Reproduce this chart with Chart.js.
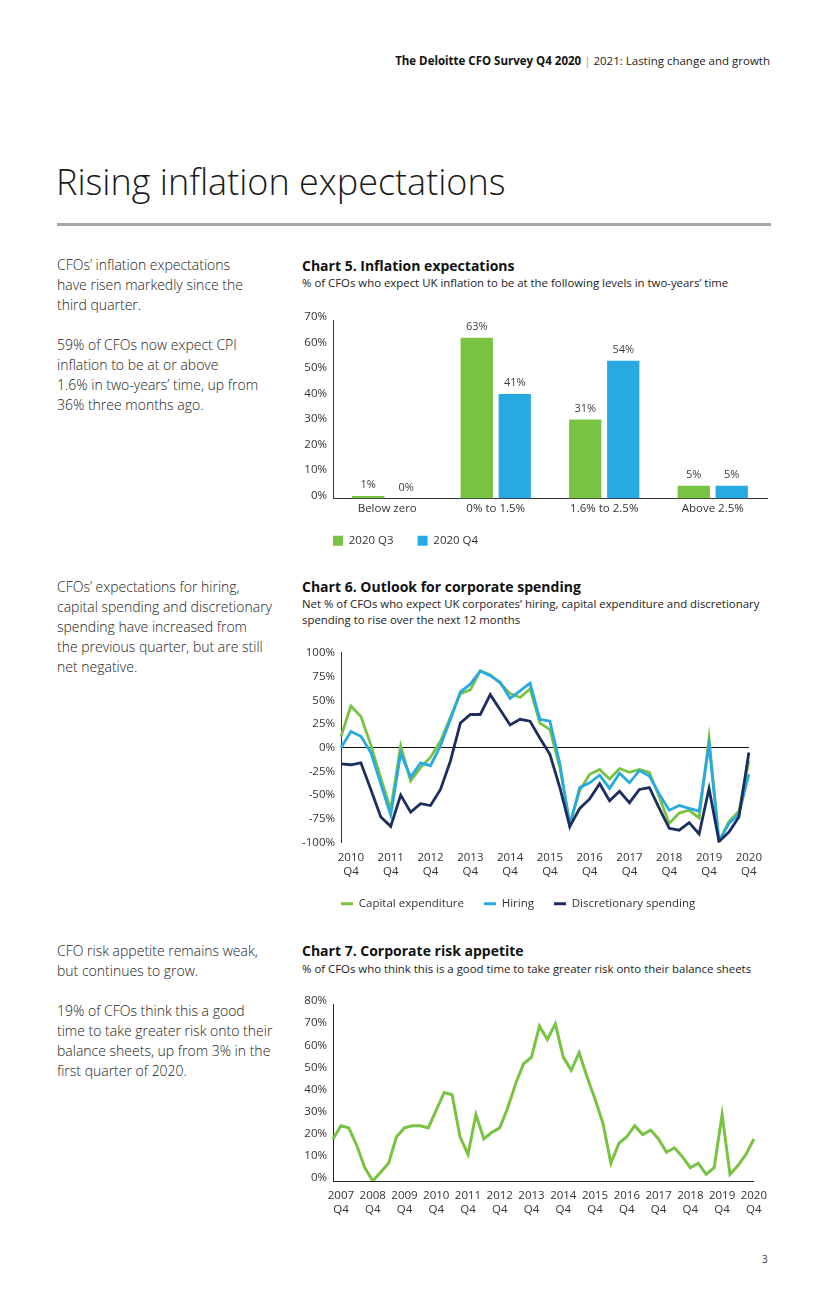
<!DOCTYPE html>
<html><head><meta charset="utf-8">
<script src="https://cdn.jsdelivr.net/npm/chart.js@4.4.1/dist/chart.umd.min.js"></script>
<style>
body{margin:0;width:827px;height:1290px;background:#fff;font-family:'Open Sans',sans-serif;color:#222;position:relative;overflow:hidden}
.abs{position:absolute;white-space:nowrap}
#hdr{right:57px;top:53px;font-size:11.5px;line-height:16px;color:#222}
#hdr b{font-weight:700;color:#111}
#title{left:56px;top:158px;font-size:36px;line-height:48px;font-weight:300;color:#1a1a1a}
#rule{left:57px;top:223px;width:714px;height:3px;background:#a6a6a6}
.side{left:57px;font-size:14px;font-weight:300;line-height:20px;color:#222}
.ctitle{left:302px;font-size:14px;line-height:20px;font-weight:700;color:#111}
.csub{left:302px;font-size:11.4px;line-height:16px;color:#222}
canvas{position:absolute}
#pg{left:762px;top:1251px;font-size:10px;line-height:16px;color:#333}
</style></head><body>
<div id="hdr" class="abs"><b>The Deloitte CFO Survey Q4 2020</b> <span style="color:#999">|</span> 2021: Lasting change and growth</div>
<div id="title" class="abs">Rising inflation expectations</div>
<div id="rule" class="abs"></div>

<div class="abs side" style="top:255px">CFOs’ inflation expectations<br>have risen markedly since the<br>third quarter.<br><br>59% of CFOs now expect CPI<br>inflation to be at or above<br>1.6% in two-years’ time, up from<br>36% three months ago.</div>
<div class="abs side" style="top:577px">CFOs’ expectations for hiring,<br>capital spending and discretionary<br>spending have increased from<br>the previous quarter, but are still<br>net negative.</div>
<div class="abs side" style="top:941px">CFO risk appetite remains weak,<br>but continues to grow.<br><br>19% of CFOs think this a good<br>time to take greater risk onto their<br>balance sheets, up from 3% in the<br>first quarter of 2020.</div>

<div class="abs ctitle" style="top:256px">Chart 5. Inflation expectations</div>
<div class="abs csub" style="top:275px">% of CFOs who expect UK inflation to be at the following levels in two-years’ time</div>
<div class="abs ctitle" style="top:577px">Chart 6. Outlook for corporate spending</div>
<div class="abs csub" style="top:596px">Net % of CFOs who expect UK corporates’ hiring, capital expenditure and discretionary<br>spending to rise over the next 12 months</div>
<div class="abs ctitle" style="top:941px">Chart 7. Corporate risk appetite</div>
<div class="abs csub" style="top:961px">% of CFOs who think this is a good time to take greater risk onto their balance sheets</div>
<div id="pg" class="abs">3</div>

<canvas id="c5" style="left:290px;top:300px;width:480px;height:264px" width="480" height="264"></canvas>
<canvas id="c6" style="left:295px;top:640px;width:475px;height:284px" width="475" height="284"></canvas>
<canvas id="c7" style="left:290px;top:985px;width:485px;height:236px" width="485" height="236"></canvas>

<script>
// ---------- Chart 5 data ----------
const categories5 = ['Below zero','0% to 1.5%','1.6% to 2.5%','Above 2.5%'];
const q3_2020 = [1, 63, 31, 5];
const q4_2020 = [0, 41, 54, 5];
const series5Names = ['2020 Q3','2020 Q4'];

// ---------- Chart 6 data ----------
const quarters6 = ['2010 Q3','2010 Q4',
 '2011 Q1','2011 Q2','2011 Q3','2011 Q4','2012 Q1','2012 Q2','2012 Q3','2012 Q4',
 '2013 Q1','2013 Q2','2013 Q3','2013 Q4','2014 Q1','2014 Q2','2014 Q3','2014 Q4',
 '2015 Q1','2015 Q2','2015 Q3','2015 Q4','2016 Q1','2016 Q2','2016 Q3','2016 Q4',
 '2017 Q1','2017 Q2','2017 Q3','2017 Q4','2018 Q1','2018 Q2','2018 Q3','2018 Q4',
 '2019 Q1','2019 Q2','2019 Q3','2019 Q4','2020 Q1','2020 Q2','2020 Q3','2020 Q4'];
const capex = [12,44,33,3,-32,-65,2,-35,-21,-10,7,32,57,61,81,77,68,57,53,62,26,19,-21,-80,-45,-28,-23,-33,-22,-26,-23,-26,-52,-80,-69,-66,-74,10,-99,-78,-67,-14];
const hiring = [0,17,12,-5,-38,-71,-6,-31,-16,-19,2,30,59,67,81,76,69,52,60,68,30,28,-17,-82,-42,-37,-29,-43,-27,-37,-24,-30,-49,-66,-61,-64,-67,3,-98,-80,-70,-28];
const discretionary = [-17,-18,-16,-44,-73,-83,-50,-68,-59,-61,-44,-14,26,35,35,56,40,24,30,28,10,-7,-42,-83,-64,-54,-38,-56,-46,-58,-44,-42,-64,-85,-87,-79,-91,-43,-99,-89,-73,-5];
const series6Names = ['Capital expenditure','Hiring','Discretionary spending'];

// ---------- Chart 7 data ----------
const quarters7 = ['2007 Q3','2007 Q4',
 '2008 Q1','2008 Q2','2008 Q3','2008 Q4','2009 Q1','2009 Q2','2009 Q3','2009 Q4',
 '2010 Q1','2010 Q2','2010 Q3','2010 Q4','2011 Q1','2011 Q2','2011 Q3','2011 Q4',
 '2012 Q1','2012 Q2','2012 Q3','2012 Q4','2013 Q1','2013 Q2','2013 Q3','2013 Q4',
 '2014 Q1','2014 Q2','2014 Q3','2014 Q4','2015 Q1','2015 Q2','2015 Q3','2015 Q4',
 '2016 Q1','2016 Q2','2016 Q3','2016 Q4','2017 Q1','2017 Q2','2017 Q3','2017 Q4',
 '2018 Q1','2018 Q2','2018 Q3','2018 Q4','2019 Q1','2019 Q2','2019 Q3','2019 Q4',
 '2020 Q1','2020 Q2','2020 Q3','2020 Q4'];
const riskAppetite = [19,25,24,16,6,0,4,8,20,24,25,25,24,32,40,39,20,12,30,19,22,24,33,44,53,56,70,64,71,56,50,58,47,37,26,8,17,20,25,21,23,19,13,15,11,6,8,3,6,30,3,7,12,19];

const GREEN = '#78c342', BLUE = '#27aae2', NAVY = '#1c2e5f';
Chart.defaults.font.family = "'Open Sans', sans-serif";
Chart.defaults.font.size = 11.5;
Chart.defaults.color = '#333';

const q4Label = (labels) => function(value, index){
  const l = labels[index];
  return l.endsWith('Q4') ? l.split(' ') : '';
};

const barLabels = {
  id: 'barLabels',
  afterDatasetsDraw(chart){
    const ctx = chart.ctx;
    ctx.save();
    ctx.font = "11px 'Open Sans', sans-serif";
    ctx.fillStyle = '#404040';
    ctx.textAlign = 'center';
    ctx.textBaseline = 'middle';
    chart.data.datasets.forEach((ds, di) => {
      chart.getDatasetMeta(di).data.forEach((el, i) => {
        ctx.fillText(ds.data[i] + '%', el.x, el.y - 11);
      });
    });
    ctx.restore();
  }
};

// place legend just below the x axis, starting at the plot's left edge
const legendPlace = (dy) => ({
  id: 'legendPlace',
  afterLayout(chart){
    const lg = chart.legend;
    if (!lg) return;
    lg.left = chart.chartArea.left - lg.options.labels.padding;
    lg.top = chart.chartArea.bottom + dy;
    lg.bottom = lg.top + lg.height;
  }
});

// Chart 5
new Chart(document.getElementById('c5'), {
  type: 'bar',
  data: {
    labels: categories5,
    datasets: [
      {label: series5Names[0], data: q3_2020, backgroundColor: GREEN, categoryPercentage: 0.7, barPercentage: 0.85},
      {label: series5Names[1], data: q4_2020, backgroundColor: BLUE, categoryPercentage: 0.7, barPercentage: 0.85}
    ]
  },
  options: {
    responsive: false, animation: false, devicePixelRatio: 1,
    layout: {padding: {left: 0, top: 20, right: 3, bottom: 0}},
    scales: {
      x: {grid: {display: false, drawTicks: false}, border: {display: true, color: '#333'},
          ticks: {padding: 3}, afterFit: s => { s.height = 20; }},
      y: {min: 0, max: 70, grid: {display: false, drawTicks: false}, border: {display: true, color: '#333'},
          ticks: {stepSize: 10, padding: 6, labelOffset: -3, callback: v => v + '%'}, afterFit: s => { s.width = 43; }}
    },
    plugins: {
      legend: {position: 'bottom', align: 'start', labels: {boxWidth: 10, boxHeight: 10, padding: 24}},
      tooltip: {enabled: false}
    }
  },
  plugins: [barLabels, legendPlace(12.5)]
});

// Chart 6
const lineLegendLabels = ch => Chart.defaults.plugins.legend.labels.generateLabels(ch)
  .map(l => Object.assign(l, {lineWidth: 0, fillStyle: l.strokeStyle}));

new Chart(document.getElementById('c6'), {
  type: 'line',
  data: {
    labels: quarters6,
    datasets: [
      {label: series6Names[0], data: capex, borderColor: GREEN, backgroundColor: GREEN, order: 3},
      {label: series6Names[1], data: hiring, borderColor: BLUE, backgroundColor: BLUE, order: 2},
      {label: series6Names[2], data: discretionary, borderColor: NAVY, backgroundColor: NAVY, order: 1}
    ]
  },
  options: {
    responsive: false, animation: false, devicePixelRatio: 1,
    elements: {line: {borderWidth: 2.8, tension: 0}, point: {radius: 0}},
    layout: {padding: {left: 0, top: 12, right: 18, bottom: 0}},
    scales: {
      x: {grid: {display: false, drawTicks: false}, border: {display: false},
          ticks: {autoSkip: false, maxRotation: 0, padding: 8, font: {lineHeight: 1.22}, callback: q4Label(quarters6)},
          afterFit: s => { s.height = 40; }},
      y: {min: -100, max: 100, border: {display: true, color: '#333'},
          grid: {drawTicks: false, color: c => c.tick && c.tick.value === 0 ? '#111' : 'rgba(0,0,0,0)', lineWidth: 1},
          ticks: {stepSize: 25, padding: 6, callback: v => v + '%'}, afterFit: s => { s.width = 46; }}
    },
    plugins: {
      legend: {position: 'bottom', align: 'start',
        labels: {boxWidth: 12, boxHeight: 3, padding: 20, generateLabels: lineLegendLabels,
                 sort: (a, b) => a.datasetIndex - b.datasetIndex}},
      tooltip: {enabled: false}
    }
  },
  plugins: [legendPlace(35.5)]
});

// Chart 7
new Chart(document.getElementById('c7'), {
  type: 'line',
  data: {
    labels: quarters7,
    datasets: [{label: 'Risk appetite', data: riskAppetite, borderColor: GREEN, backgroundColor: GREEN}]
  },
  options: {
    responsive: false, animation: false, devicePixelRatio: 1,
    elements: {line: {borderWidth: 3, tension: 0}, point: {radius: 0}},
    layout: {padding: {left: 0, top: 19, right: 20, bottom: 0}},
    scales: {
      x: {grid: {display: false, drawTicks: false}, border: {display: true, color: '#222'},
          ticks: {autoSkip: false, maxRotation: 0, padding: 8, font: {lineHeight: 1.22}, callback: q4Label(quarters7)},
          afterFit: s => { s.height = 40; }},
      y: {min: 0, max: 80, grid: {display: false, drawTicks: false}, border: {display: true, color: '#222'},
          ticks: {stepSize: 10, padding: 6, labelOffset: -3, callback: v => v + '%'}, afterFit: s => { s.width = 43; }}
    },
    plugins: {legend: {display: false}, tooltip: {enabled: false}}
  }
});
</script>
</body></html>
